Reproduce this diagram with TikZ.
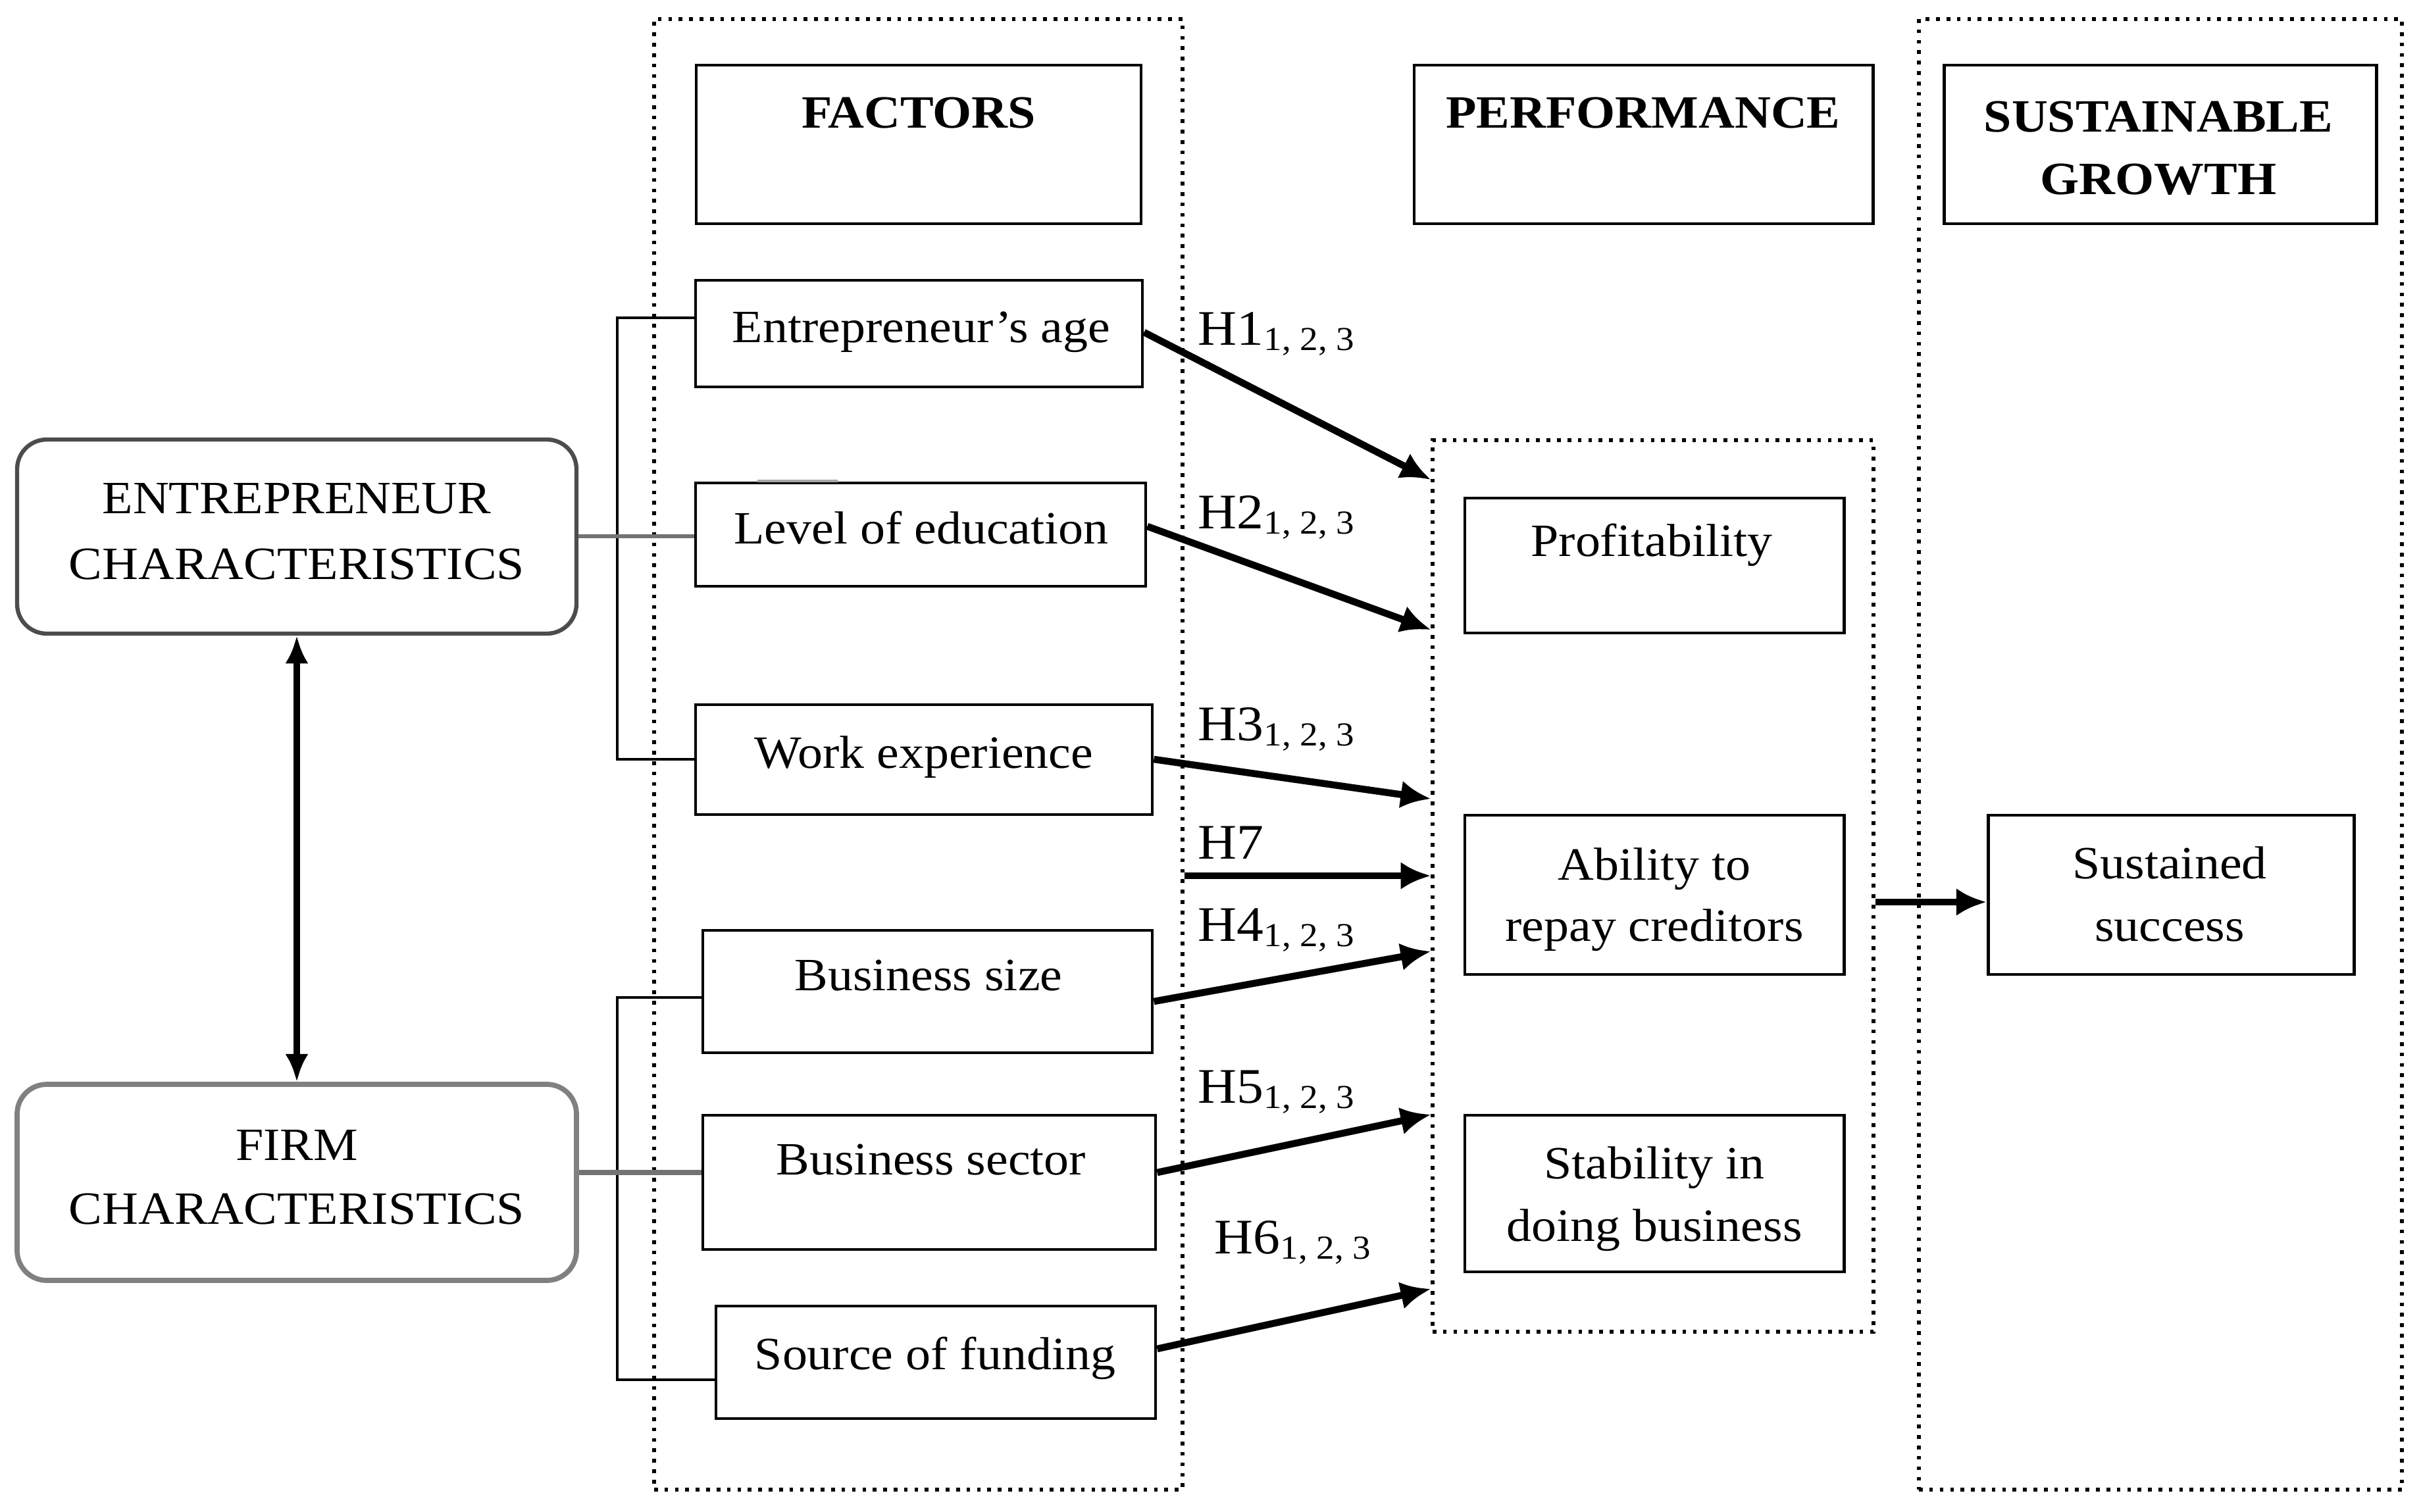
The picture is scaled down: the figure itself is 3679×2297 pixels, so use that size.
\documentclass[tikz,border=0pt]{standalone}
\usepackage{fontspec}
\setmainfont{Liberation Serif}[FakeStretch=1.08]
\usetikzlibrary{arrows.meta,fit}
\newcommand\Hsub[1]{\raisebox{-2.4pt}{\fontsize{14.5}{15}\selectfont #1}}
\begin{document}
\begin{tikzpicture}[x=0.01cm,y=-0.01cm,
  box/.style={draw, line width=1.4pt, inner sep=0pt},
  dotbox/.style={draw, line width=1.6pt, dash pattern=on 1.6pt off 2.9pt, inner sep=0pt},
  rbox/.style={draw, rounded corners=0.45cm, inner sep=0pt},
  txt/.style={anchor=base, inner sep=0pt, font=\fontsize{20}{24}\selectfont},
  head/.style={anchor=base, inner sep=0pt, font=\fontsize{20}{24}\selectfont\bfseries},
  hyp/.style={anchor=base west, inner sep=0pt, font=\fontsize{21.5}{24}\selectfont},
  arr/.style={line width=3pt, -{Latex[length=13pt,width=12pt]}},
  darr/.style={line width=3pt, {Latex[length=12pt,width=10pt]}-{Latex[length=12pt,width=10pt]}},
  brk/.style={line width=1.1pt},
  gline/.style={line width=1.8pt, draw=black!55}]
\useasboundingbox (0,0) rectangle (3679,2297);

% group (dotted) boxes
\node[dotbox, fit={(994,29) (1797,2264)}] (facgrp) {};
\node[dotbox, fit={(2916,29) (3650,2264)}] (susgrp) {};
\node[dotbox, fit={(2177,669) (2847,2024)}] (perfgrp) {};

% headers
\node[box, fit={(1058,99) (1734,340)}] (facbox) {};
\node[box, fit={(2149,99) (2846,340)}] (perfbox) {};
\node[box, fit={(2954,99) (3611,340)}] (susbox) {};
\node[head] (factxt) at (1396,195) {FACTORS};
\node[head] (perftxt) at (2497,195) {PERFORMANCE};
\node[head] (sus1) at (3280,200) {SUSTAINABLE};
\node[head] (sus2) at (3280,295) {GROWTH};

% characteristic boxes
\node[rbox, draw=black!70, line width=1.8pt, fit={(26,668) (876,963)}] (entbox) {};
\node[rbox, draw=black!50, line width=2.2pt, fit={(26,1648) (876,1946)}] (firmbox) {};
\node[txt] (ent1) at (451,780) {ENTREPRENEUR};
\node[txt] (ent2) at (451,880) {CHARACTERISTICS};
\node[txt] (firm1) at (451,1763) {FIRM};
\node[txt] (firm2) at (451,1860) {CHARACTERISTICS};

% factor boxes
\node[box, fit={(1057,426) (1736,588)}] (agebox) {};
\node[box, fit={(1057,734) (1741,891)}] (edubox) {};
\node[box, fit={(1057,1071) (1751,1238)}] (workbox) {};
\node[box, fit={(1068,1414) (1751,1600)}] (sizebox) {};
\node[box, fit={(1068,1695) (1756,1899)}] (sectorbox) {};
\node[box, fit={(1088,1985) (1756,2156)}] (fundbox) {};
\node[txt] (agetxt) at (1400,520) {Entrepreneur's age};
\node[txt] (edutxt) at (1400,826) {Level of education};
\node[txt] (worktxt) at (1404,1167) {Work experience};
\node[txt] (sizetxt) at (1411,1505) {Business size};
\node[txt] (sectortxt) at (1415,1785) {Business sector};
\node[txt] (fundtxt) at (1421,2081) {Source of funding};

% performance boxes
\node[box, fit={(2226,757) (2802,962)}] (profbox) {};
\node[box, fit={(2226,1239) (2802,1481)}] (abbox) {};
\node[box, fit={(2226,1695) (2802,1933)}] (stbox) {};
\node[box, fit={(3021,1239) (3577,1481)}] (sucbox) {};
\node[txt] (proftxt) at (2510,845) {Profitability};
\node[txt] (ab1) at (2514,1337) {Ability to};
\node[txt] (ab2) at (2514,1430) {repay creditors};
\node[txt] (st1) at (2514,1791) {Stability in};
\node[txt] (st2) at (2514,1886) {doing business};
\node[txt] (su1) at (3297,1335) {Sustained};
\node[txt] (su2) at (3297,1430) {success};

% hypothesis labels
\node[hyp] (h1) at (1820,524) {H1\Hsub{1, 2, 3}};
\node[hyp] (h2) at (1820,803) {H2\Hsub{1, 2, 3}};
\node[hyp] (h3) at (1820,1125) {H3\Hsub{1, 2, 3}};
\node[hyp] (h7) at (1820,1305) {H7};
\node[hyp] (h4) at (1820,1430) {H4\Hsub{1, 2, 3}};
\node[hyp] (h5) at (1820,1676) {H5\Hsub{1, 2, 3}};
\node[hyp] (h6) at (1845,1905) {H6\Hsub{1, 2, 3}};

% brackets
\draw[brk] (agebox.west |- 0,483) -- (938,483) -- (938,1154) -- (workbox.west |- 0,1154);
\draw[gline] (entbox.east |- 0,815) -- (edubox.west |- 0,815);
\draw[brk] (sizebox.west |- 0,1516) -- (938,1516) -- (938,2097) -- (fundbox.west |- 0,2097);
\draw[gline, line width=2.2pt] (firmbox.east |- 0,1782) -- (sectorbox.west |- 0,1782);
\draw[line width=1.4pt, black!35] (1151,731) -- (1273,731);

% arrows
\draw[darr] (entbox.south) -- (firmbox.north);
\draw[arr] (agebox.east |- 0,505) -- (perfgrp.west |- 0,729);
\draw[arr] (edubox.east |- 0,800) -- (perfgrp.west |- 0,957);
\draw[arr] (workbox.east |- 0,1154) -- (perfgrp.west |- 0,1214);
\draw[arr] (facgrp.east |- 0,1331) -- (perfgrp.west |- 0,1331);
\draw[arr] (sizebox.east |- 0,1522) -- (perfgrp.west |- 0,1446);
\draw[arr] (sectorbox.east |- 0,1782) -- (perfgrp.west |- 0,1694);
\draw[arr] (fundbox.east |- 0,2050) -- (perfgrp.west |- 0,1959);
\draw[arr] (perfgrp.east |- 0,1371) -- (sucbox.west |- 0,1371);
\end{tikzpicture}
\end{document}
